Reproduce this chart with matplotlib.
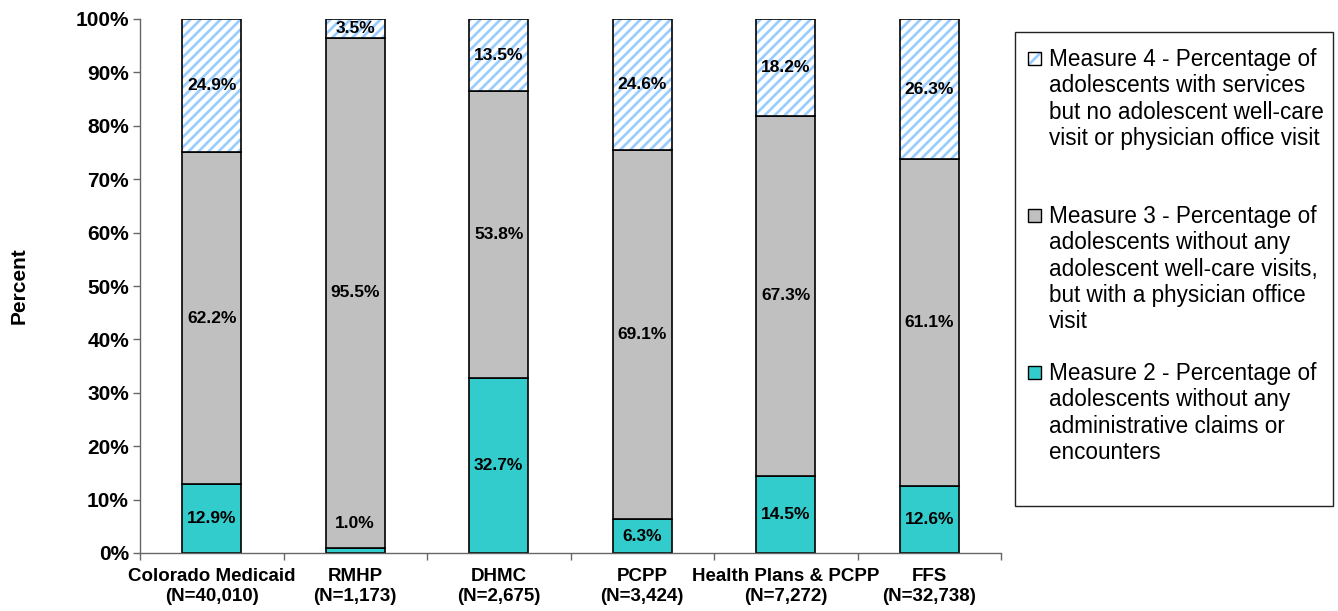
import numpy as np
import matplotlib
matplotlib.use("Agg")
import matplotlib.pyplot as plt
from matplotlib.patches import Rectangle

# data (percent of adolescents)
categories = ["Colorado Medicaid\n(N=40,010)", "RMHP\n(N=1,173)", "DHMC\n(N=2,675)",
              "PCPP\n(N=3,424)", "Health Plans & PCPP\n(N=7,272)", "FFS\n(N=32,738)"]
measure2 = [12.9, 1.0, 32.7, 6.3, 14.5, 12.6]
measure3 = [62.2, 95.5, 53.8, 69.1, 67.3, 61.1]
measure4 = [24.9, 3.5, 13.5, 24.6, 18.2, 26.3]

legend_lines = [
    ["Measure 4 - Percentage of", "adolescents with services",
     "but no adolescent well-care", "visit or physician office visit"],
    ["Measure 3 - Percentage of", "adolescents without any",
     "adolescent well-care visits,", "but with a physician office", "visit"],
    ["Measure 2 - Percentage of", "adolescents without any",
     "administrative claims or", "encounters"],
]

TEAL = "#33CCCC"
GRAY = "#C0C0C0"
STRIPE = "#99CCFF"

DPI = 120  # '////' at 120 dpi -> stripes every ~10 px, like the original


def pt(v):
    # sizes were measured for 100 dpi, rescale them
    return v * 100 / DPI


plt.rcParams["font.family"] = ["Liberation Sans", "DejaVu Sans"]
plt.rcParams["hatch.linewidth"] = 1.6

W, H = 1338, 611
fig = plt.figure(figsize=(W / DPI, H / DPI), dpi=DPI)
ax = fig.add_axes([140 / W, 1 - 553 / H, (1001 - 140) / W, (553 - 19) / H])

x = np.arange(len(categories))
m2 = np.array(measure2)
m3 = np.array(measure3)
m4 = np.array(measure4)
bw = 0.41
lw = pt(1.2)

ax.bar(x, m2, bw, color=TEAL, edgecolor="black", linewidth=lw, zorder=2)
ax.bar(x, m3, bw, bottom=m2, color=GRAY, edgecolor="black", linewidth=lw, zorder=2)
# hatched top segment: stripes first, then a black outline on top
ax.bar(x, m4, bw, bottom=m2 + m3, color="white", edgecolor=STRIPE, hatch="////",
       linewidth=0, zorder=2)
ax.bar(x, m4, bw, bottom=m2 + m3, fill=False, edgecolor="black", linewidth=lw, zorder=3)

lab = dict(ha="center", va="center", fontsize=pt(12.5), fontweight="bold", zorder=4)
for i in range(len(x)):
    # tiny bottom segment -> label goes just above it
    y2 = m2[i] / 2 if m2[i] > 3 else 5.6
    ax.text(x[i], y2, f"{m2[i]:.1f}%", **lab)
    ax.text(x[i], m2[i] + m3[i] / 2, f"{m3[i]:.1f}%", **lab)
    ax.text(x[i], m2[i] + m3[i] + m4[i] / 2, f"{m4[i]:.1f}%", **lab)

ax.set_xlim(-0.5, len(x) - 0.5)
ax.set_ylim(0, 100)
ax.set_yticks(np.arange(0, 101, 10))
ax.set_yticklabels([f"{v}%" for v in range(0, 101, 10)], fontsize=pt(15), fontweight="bold")
ax.tick_params(axis="y", length=pt(5), width=pt(1), color="#666666", pad=pt(3))

ax.set_xticks(np.arange(-0.5, len(x)), labels=[""] * (len(x) + 1))
ax.tick_params(axis="x", which="major", length=pt(5), width=pt(1), color="#666666",
               direction="out")
ax.set_xticks(x, labels=categories, minor=True)
ax.tick_params(axis="x", which="minor", length=0, pad=pt(11), labelsize=pt(13.5))
for t in ax.get_xticklabels(minor=True):
    t.set_fontweight("bold")

for s in ["top", "right"]:
    ax.spines[s].set_visible(False)
for s in ["left", "bottom"]:
    ax.spines[s].set_color("#666666")
    ax.spines[s].set_linewidth(pt(1))

ax.set_ylabel("Percent", fontsize=pt(15), fontweight="bold")
ax.yaxis.set_label_coords(-(140 - 29) / (1001 - 140), 0.5)

# legend drawn by hand so the entries sit at equal steps like the original
fig.patches.append(Rectangle((1015 / W, 1 - 506 / H), (1333 - 1015) / W, (506 - 32) / H,
                             transform=fig.transFigure, facecolor="white",
                             edgecolor="#222222", linewidth=pt(1)))
keys = [dict(facecolor="white", edgecolor=STRIPE, hatch="///"),
        dict(facecolor=GRAY), dict(facecolor=TEAL)]
for k, lines in enumerate(legend_lines):
    base = 66 + 157 * k
    fig.patches.append(Rectangle((1028 / W, 1 - (base - 1) / H), 13 / W, 13 / H,
                                 transform=fig.transFigure, linewidth=0, **keys[k]))
    fig.patches.append(Rectangle((1028 / W, 1 - (base - 1) / H), 13 / W, 13 / H,
                                 transform=fig.transFigure, fill=False,
                                 edgecolor="black", linewidth=pt(1)))
    for j, line in enumerate(lines):
        fig.text(1049 / W, 1 - (base + 26.3 * j) / H, line, fontsize=pt(16.2),
                 ha="left", va="baseline")

fig.savefig("out.png", dpi=DPI)
